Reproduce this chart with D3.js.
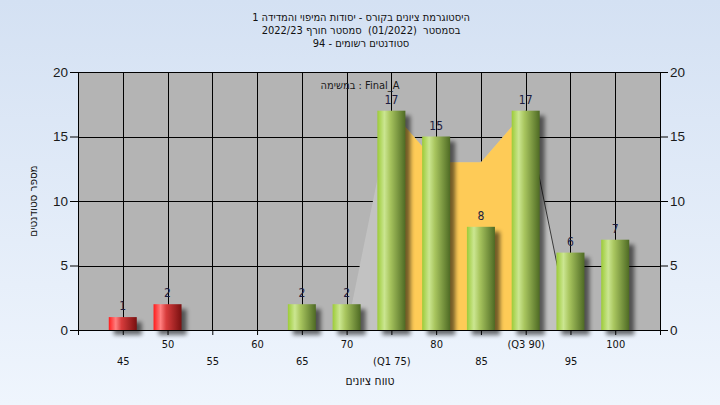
<!DOCTYPE html>
<html>
<head>
<meta charset="utf-8">
<script src="https://cdn.jsdelivr.net/npm/d3@7"></script>
<style>
  html, body { margin: 0; padding: 0; background: #e4edf9; }
  svg { display: block; }
  .narrow { font-family: "Liberation Sans Narrow", "Arial Narrow", "DejaVu Sans Condensed", sans-serif; }
</style>
</head>
<body>
<svg id="chart" width="720" height="405"></svg>
<script>
// ---------- data ----------
const categories = ["45", "50", "55", "60", "65", "70", "75", "80", "85", "90", "95", "100"];
const tickLabels = ["45", "50", "55", "60", "65", "70", "(Q1 75)", "80", "85", "(Q3 90)", "95", "100"];
const counts = [1, 2, 0, 0, 2, 2, 17, 15, 8, 17, 6, 7];
const curveValues = [0, 0, 0, 0, 0, 0, 17, 13, 13, 17, 0, 0];
const q1Category = "75";
const q3Category = "90";
const passMark = 55;
const yTicks = [0, 5, 10, 15, 20];
const titleLines = [
  "היסטוגרמת ציונים בקורס - יסודות המיפוי והמדידה 1",
  "בסמסטר  (01/2022)  סמסטר חורף 2022/23",
  "סטודנטים רשומים - 94"
];
const seriesLabel = "במשימה : Final_A";
const xTitle = "טווח ציונים";
const yTitle = "מספר סטודנטים";

// ---------- layout ----------
const W = 720, H = 405;
const plot = { left: 78, right: 660, top: 72, bottom: 330 };

const svg = d3.select("#chart");
const defs = svg.append("defs");

const bgGrad = defs.append("linearGradient").attr("id", "bg").attr("x1", 0).attr("y1", 0).attr("x2", 0).attr("y2", 1);
bgGrad.append("stop").attr("offset", "0%").attr("stop-color", "#d4e1f3");
bgGrad.append("stop").attr("offset", "100%").attr("stop-color", "#eff5fd");

function barGradient(id, stops) {
  const g = defs.append("linearGradient").attr("id", id).attr("x1", 0).attr("y1", 0).attr("x2", 1).attr("y2", 0);
  stops.forEach(s => g.append("stop").attr("offset", s[0]).attr("stop-color", s[1]));
}
barGradient("gGreen", [["0%", "#9ccb38"], ["25%", "#cbe691"], ["45%", "#a9c65f"], ["100%", "#4e6a24"]]);
barGradient("gRed", [["0%", "#ff1c1c"], ["25%", "#ff8080"], ["45%", "#d83c3c"], ["100%", "#781010"]]);

const blur = defs.append("filter").attr("id", "blur").attr("x", "-50%").attr("y", "-50%").attr("width", "200%").attr("height", "200%");
blur.append("feGaussianBlur").attr("stdDeviation", 2);

svg.append("rect").attr("width", W).attr("height", H).attr("fill", "url(#bg)");

const x = d3.scalePoint().domain(categories).range([plot.left, plot.right]).padding(1);
const y = d3.scaleLinear().domain([0, 20]).range([plot.bottom, plot.top]);

// plot background
svg.append("rect")
  .attr("x", plot.left).attr("y", plot.top)
  .attr("width", plot.right - plot.left).attr("height", plot.bottom - plot.top)
  .attr("fill", "#b4b4b4");

// gridlines
const grid = svg.append("g").attr("stroke", "#000").attr("stroke-width", 1);
grid.selectAll("line.h").data(yTicks).join("line")
  .attr("x1", plot.left).attr("x2", plot.right)
  .attr("y1", d => Math.round(y(d)) + 0.5).attr("y2", d => Math.round(y(d)) + 0.5);
grid.selectAll("line.v").data(categories).join("line")
  .attr("y1", plot.top).attr("y2", plot.bottom)
  .attr("x1", d => Math.round(x(d)) + 0.5).attr("x2", d => Math.round(x(d)) + 0.5);

// distribution curve areas
const pts = categories.map((c, i) => ({ c, v: curveValues[i] }));
const area = d3.area().x(d => x(d.c)).y0(y(0)).y1(d => y(d.v));
svg.append("path").datum(pts).attr("d", area).attr("fill", "#c2c2c2");
const i1 = categories.indexOf(q1Category), i3 = categories.indexOf(q3Category);
svg.append("path").datum(pts.slice(i1, i3 + 1)).attr("d", area).attr("fill", "#fecb57");
svg.append("path").datum(pts.slice(i3, i3 + 2))
  .attr("d", d3.line().x(d => x(d.c)).y(d => y(d.v)))
  .attr("fill", "none").attr("stroke", "#3a3a3a").attr("stroke-width", 1);

// bars
const barW = 28;
const bars = categories.map((c, i) => ({ c, v: counts[i] })).filter(d => d.v > 0);
svg.append("g").selectAll("rect").data(bars).join("rect")
  .attr("x", d => x(d.c) - barW / 2 + 5).attr("y", d => y(d.v) + 5)
  .attr("width", barW).attr("height", d => y(0) - y(d.v))
  .attr("fill", "#000").attr("opacity", 0.55).attr("filter", "url(#blur)");
svg.append("g").selectAll("rect").data(bars).join("rect")
  .attr("x", d => x(d.c) - barW / 2).attr("y", d => y(d.v))
  .attr("width", barW).attr("height", d => y(0) - y(d.v))
  .attr("fill", d => (+d.c < passMark ? "url(#gRed)" : "url(#gGreen)"));

// axes
const axisFont = "Liberation Sans, Arial, sans-serif";
const yl = svg.append("g").attr("transform", `translate(${plot.left},0)`)
  .call(d3.axisLeft(y).tickValues(yTicks).tickSize(8).tickPadding(2).tickSizeOuter(0));
const yr = svg.append("g").attr("transform", `translate(${plot.right},0)`)
  .call(d3.axisRight(y).tickValues(yTicks).tickSize(8).tickPadding(2).tickSizeOuter(0));
[yl, yr].forEach(g => {
  g.select(".domain").attr("stroke", "#000");
  g.selectAll("line").attr("stroke", "#000");
  g.selectAll("text").attr("font-family", axisFont).attr("font-size", 13.5).attr("fill", "#1a1a1a");
});
const xa = svg.append("g").attr("transform", `translate(0,${plot.bottom})`)
  .call(d3.axisBottom(x).tickSize(5).tickSizeOuter(5).tickFormat((d, i) => tickLabels[i]));
xa.select(".domain").attr("stroke", "#000");
xa.selectAll("line").attr("stroke", "#000");
xa.selectAll("text")
  .attr("class", "narrow").attr("font-size", 11).attr("fill", "#111")
  .attr("y", (d, i) => (i % 2 === 1 ? 10 : 27));

// top border
svg.append("line").attr("x1", plot.left).attr("x2", plot.right)
  .attr("y1", plot.top + 0.5).attr("y2", plot.top + 0.5).attr("stroke", "#000");

// value labels
svg.append("g").selectAll("text").data(bars).join("text")
  .attr("class", "narrow")
  .attr("x", d => x(d.c)).attr("y", d => y(d.v) - 7)
  .attr("text-anchor", "middle").attr("font-size", 12).attr("fill", "#1c1c40")
  .text(d => d.v);

// series label
svg.append("text").attr("class", "narrow")
  .attr("x", 360).attr("y", 89).attr("text-anchor", "middle")
  .attr("font-size", 11).attr("fill", "#1a1a1a")
  .text(seriesLabel);

// title
svg.append("g").selectAll("text").data(titleLines).join("text")
  .attr("class", "narrow")
  .attr("x", 361).attr("y", (d, i) => 21 + i * 12.8)
  .attr("text-anchor", "middle").attr("direction", "rtl")
  .attr("font-size", 11).attr("fill", "#111")
  .style("white-space", "pre")
  .text(d => d);

// axis titles
svg.append("text").attr("class", "narrow")
  .attr("x", 370).attr("y", 385).attr("text-anchor", "middle").attr("direction", "rtl")
  .attr("font-size", 12).attr("fill", "#111")
  .text(xTitle);
svg.append("text").attr("class", "narrow")
  .attr("transform", "translate(37,201) rotate(-90)").attr("text-anchor", "middle").attr("direction", "rtl")
  .attr("font-size", 11.5).attr("fill", "#111")
  .text(yTitle);
</script>
</body>
</html>
